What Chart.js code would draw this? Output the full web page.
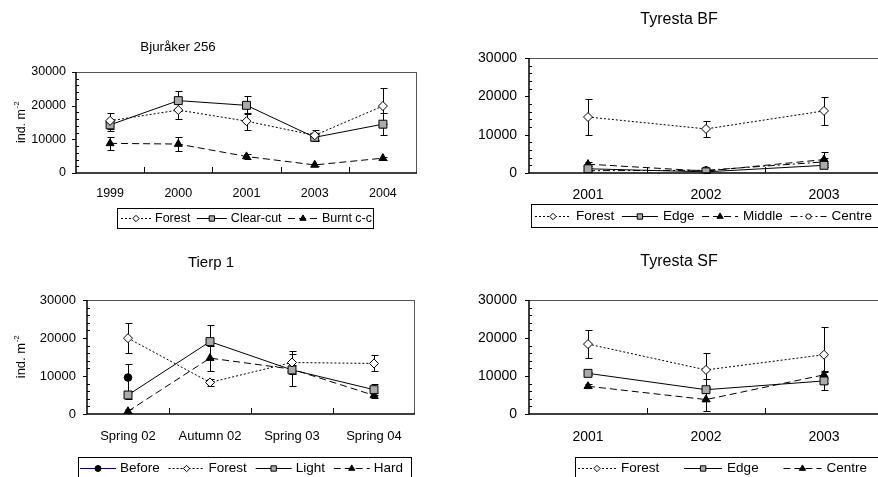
<!DOCTYPE html>
<html>
<head>
<meta charset="utf-8">
<script src="https://cdn.jsdelivr.net/npm/chart.js@4"></script>
<style>
  html, body { margin: 0; padding: 0; background: #fff; overflow: hidden; }
  #page { position: relative; width: 878px; height: 477px; overflow: hidden; }
  .panel { position: absolute; }
</style>
</head>
<body>
<div id="page">
  <div class="panel" style="left:0;top:0"><canvas id="c-bju" width="440" height="240"></canvas></div>
  <div class="panel" style="left:440px;top:0"><canvas id="c-tbf" width="450" height="240"></canvas></div>
  <div class="panel" style="left:0;top:240px"><canvas id="c-tierp" width="440" height="240"></canvas></div>
  <div class="panel" style="left:440px;top:240px"><canvas id="c-tsf" width="450" height="240"></canvas></div>
</div>
<script>
const FONT = "'Liberation Sans', Arial, sans-serif";
Chart.defaults.font.family = FONT;
Chart.defaults.color = '#000';

// Bjuråker 256
const bjuYears = ['1999', '2000', '2001', '2003', '2004'];
const bjuForest = [15500, 18700, 15400, 11200, 19900];
const bjuForestSe = [2400, 2700, 2500, 1500, 5400];
const bjuClearcut = [14300, 21500, 20100, 10600, 14500];
const bjuClearcutSe = [1700, 3000, 2700, 1000, 3300];
const bjuBurnt = [8800, 8600, 4900, 2400, 4400];
const bjuBurntSe = [2000, 2000, 600, 300, 400];

// Tyresta BF
const tbfYears = ['2001', '2002', '2003'];
const tbfForest = [14600, 11500, 16200];
const tbfForestSe = [4700, 2000, 3600];
const tbfEdge = [1100, 300, 2000];
const tbfEdgeSe = [300, 200, 500];
const tbfMiddle = [2300, 500, 3500];
const tbfMiddleSe = [600, 200, 1900];
const tbfCentre = [600, 700, 2900];
const tbfCentreSe = [200, 300, 900];

// Tierp 1
const tierpPeriods = ['Spring 02', 'Autumn 02', 'Spring 03', 'Spring 04'];
const tierpBefore = [9600, null, null, null];
const tierpBeforeSe = [3500, 0, 0, 0];
const tierpForest = [19950, 8300, 13550, 13300];
const tierpForestSe = [3900, 1000, 2900, 2100];
const tierpLight = [5000, 19050, 11600, 6400];
const tierpLightSe = [1000, 4400, 4100, 1500];
const tierpHard = [700, 14700, 11800, 4900];
const tierpHardSe = [500, 3300, 1000, 600];

// Tyresta SF
const tsfYears = ['2001', '2002', '2003'];
const tsfForest = [18400, 11600, 15600];
const tsfForestSe = [3700, 4400, 7400];
const tsfEdge = [10700, 6400, 8700];
const tsfEdgeSe = [400, 2900, 2500];
const tsfCentre = [7300, 3800, 10300];
const tsfCentreSe = [500, 3000, 800];

// marker / line styles per treatment
const openDiamond = { borderDash: [2, 2], pointStyle: 'rectRot', pointRadius: 4.5, pointBackgroundColor: '#fff', legendRadius: 3.2 };
const greySquare = { borderDash: [], pointStyle: 'rect', pointRadius: 5.6, pointBackgroundColor: '#aaa', legendRadius: 3.8 };
const blackTriangle = { borderDash: [7, 4], pointStyle: 'triangle', pointRadius: 4.6, pointBackgroundColor: '#000', legendRadius: 3.6 };
const openCircle = { borderDash: [7, 3, 2, 3], pointStyle: 'circle', pointRadius: 3.8, pointBackgroundColor: '#fff', legendRadius: 2.6 };
const blackCircle = { borderDash: [], borderColor: '#000080', pointStyle: 'circle', pointRadius: 3.8, pointBackgroundColor: '#000', legendRadius: 3 };

function series(label, data, se, style) {
  return Object.assign({
    label, data, se,
    borderColor: '#000', borderWidth: 1,
    pointBorderColor: '#000', pointBorderWidth: 1,
    pointHoverRadius: 4, fill: false, tension: 0
  }, style);
}

const panels = [
  {
    id: 'c-bju', w: 440, h: 240, area: { l: 76, t: 72, r: 417, b: 173 },
    labels: bjuYears, font: 12.5, xPad: 13, yPad: 10,
    title: { text: 'Bjuråker 256', x: 178, y: 47, size: 13.3 }, yTitleX: 21,
    legend: { x: 117, y: 208, w: 256, h: 20, pad: 4, right: 372, sample: 30, textGap: 4, size: 12.5 },
    datasets: [
      series('Forest', bjuForest, bjuForestSe, openDiamond),
      series('Clear-cut', bjuClearcut, bjuClearcutSe, greySquare),
      series('Burnt c-c', bjuBurnt, bjuBurntSe, blackTriangle)
    ]
  },
  {
    id: 'c-tbf', w: 450, h: 240, area: { l: 89, t: 58, r: 443, b: 173 },
    labels: tbfYears, font: 14, xPad: 14, yPad: 12,
    title: { text: 'Tyresta BF', x: 239, y: 20, size: 16 },
    legend: { x: 91, y: 204, w: 370, h: 23, pad: 4, right: 432, sample: 36, textGap: 5, size: 13.5 },
    datasets: [
      series('Forest', tbfForest, tbfForestSe, openDiamond),
      series('Edge', tbfEdge, tbfEdgeSe, greySquare),
      series('Middle', tbfMiddle, tbfMiddleSe, blackTriangle),
      series('Centre', tbfCentre, tbfCentreSe, openCircle)
    ]
  },
  {
    id: 'c-tierp', w: 440, h: 240, area: { l: 87, t: 60, r: 415, b: 174 },
    labels: tierpPeriods, font: 13, xPad: 15, yPad: 11,
    title: { text: 'Tierp 1', x: 211, y: 23, size: 15 }, yTitleX: 21,
    legend: { x: 78, y: 217, w: 333, h: 22, pad: 2, right: 403, sample: 36, textGap: 4, size: 13.5 },
    datasets: [
      series('Before', tierpBefore, tierpBeforeSe, blackCircle),
      series('Forest', tierpForest, tierpForestSe, openDiamond),
      series('Light', tierpLight, tierpLightSe, greySquare),
      series('Hard', tierpHard, tierpHardSe, blackTriangle)
    ]
  },
  {
    id: 'c-tsf', w: 450, h: 240, area: { l: 89, t: 60, r: 443, b: 174 },
    labels: tsfYears, font: 14, xPad: 15, yPad: 12,
    title: { text: 'Tyresta SF', x: 239, y: 22, size: 16 },
    legend: { x: 135, y: 217, w: 330, h: 22, pad: 3, right: 427, sample: 38, textGap: 5, size: 13.5 },
    datasets: [
      series('Forest', tsfForest, tsfForestSe, openDiamond),
      series('Edge', tsfEdge, tsfEdgeSe, greySquare),
      series('Centre', tsfCentre, tsfCentreSe, blackTriangle)
    ]
  }
];

const crisp = v => Math.round(v) + 0.5;

function drawErrorBars(chart) {
  const ctx = chart.ctx, ys = chart.scales.y;
  ctx.save();
  ctx.strokeStyle = '#000';
  ctx.lineWidth = 1;
  chart.data.datasets.forEach((ds, i) => {
    const meta = chart.getDatasetMeta(i);
    ds.data.forEach((v, j) => {
      if (v == null || !ds.se || !ds.se[j]) return;
      const x = crisp(meta.data[j].x);
      const y1 = crisp(ys.getPixelForValue(v + ds.se[j]));
      const y2 = crisp(ys.getPixelForValue(Math.max(0, v - ds.se[j])));
      ctx.beginPath();
      ctx.moveTo(x, y1); ctx.lineTo(x, y2);
      ctx.moveTo(x - 3, y1); ctx.lineTo(x + 4, y1);
      ctx.moveTo(x - 3, y2); ctx.lineTo(x + 4, y2);
      ctx.stroke();
    });
  });
  ctx.restore();
}

function drawFrame(chart) {
  const ctx = chart.ctx, { left, right, top, bottom } = chart.chartArea;
  const ys = chart.scales.y, xs = chart.scales.x;
  ctx.save();
  // thin grey top and right edge of the plot box
  ctx.strokeStyle = '#555';
  ctx.lineWidth = 1;
  ctx.beginPath();
  ctx.moveTo(left, crisp(top)); ctx.lineTo(right, crisp(top));
  ctx.moveTo(crisp(right) - 1, top); ctx.lineTo(crisp(right) - 1, bottom);
  ctx.stroke();
  // value and category axes
  ctx.strokeStyle = '#000';
  ctx.lineWidth = 1.5;
  ctx.beginPath();
  ctx.moveTo(left, top); ctx.lineTo(left, bottom + 0.75);
  ctx.moveTo(left - 0.75, bottom); ctx.lineTo(right, bottom);
  ctx.stroke();
  // major ticks outside, minor ticks inside
  ctx.lineWidth = 1;
  ctx.beginPath();
  for (let v = 0; v <= 30000; v += 2000) {
    const y = crisp(ys.getPixelForValue(v));
    if (v % 10000 === 0) { ctx.moveTo(left - 4, y); ctx.lineTo(left, y); }
    else { ctx.moveTo(left, y); ctx.lineTo(left + 3, y); }
  }
  // category separators
  const n = chart.data.labels.length;
  for (let i = 0; i < n - 1; i++) {
    const x = crisp((xs.getPixelForValue(i) + xs.getPixelForValue(i + 1)) / 2);
    ctx.moveTo(x, bottom); ctx.lineTo(x, bottom - 6);
  }
  ctx.stroke();
  ctx.restore();
}

function drawYTitle(chart, x, size) {
  const ctx = chart.ctx, { top, bottom } = chart.chartArea;
  ctx.save();
  ctx.translate(x, (top + bottom) / 2);
  ctx.rotate(-Math.PI / 2);
  ctx.fillStyle = '#000';
  ctx.textAlign = 'left';
  ctx.textBaseline = 'alphabetic';
  ctx.font = `${size}px ${FONT}`;
  const main = 'ind. m';
  const mw = ctx.measureText(main).width;
  ctx.font = `8px ${FONT}`;
  const sw = ctx.measureText('-2').width;
  const start = -(mw + sw) / 2;
  ctx.font = `${size}px ${FONT}`;
  ctx.fillText(main, start, 4);
  ctx.font = `8px ${FONT}`;
  ctx.fillText('-2', start + mw + 0.5, -2.5);
  ctx.restore();
}

function drawLegend(chart, lg) {
  const ctx = chart.ctx, items = chart.data.datasets;
  ctx.save();
  ctx.strokeStyle = '#000';
  ctx.lineWidth = 1;
  ctx.strokeRect(lg.x + 0.5, lg.y + 0.5, lg.w, lg.h);
  ctx.font = `${lg.size}px ${FONT}`;
  const widths = items.map(d => ctx.measureText(d.label).width);
  const used = widths.reduce((a, b) => a + b, 0) + items.length * (lg.sample + lg.textGap);
  const gap = (lg.right - lg.x - lg.pad - used) / (items.length - 1);
  const cy = lg.y + Math.round(lg.h / 2) + 0.5;
  let x = lg.x + lg.pad;
  items.forEach((d, i) => {
    ctx.strokeStyle = d.borderColor;
    ctx.setLineDash(d.borderDash || []);
    ctx.beginPath();
    ctx.moveTo(x, cy); ctx.lineTo(x + lg.sample, cy);
    ctx.stroke();
    ctx.setLineDash([]);
    ctx.strokeStyle = '#000';
    ctx.fillStyle = d.pointBackgroundColor;
    Chart.helpers.drawPoint(ctx, { pointStyle: d.pointStyle, radius: d.legendRadius, borderWidth: 1, rotation: 0 }, x + lg.sample / 2, cy);
    ctx.fillStyle = '#000';
    ctx.textAlign = 'left';
    ctx.textBaseline = 'middle';
    ctx.fillText(d.label, x + lg.sample + lg.textGap, cy);
    x += lg.sample + lg.textGap + widths[i] + gap;
  });
  ctx.restore();
}

function panelDecor(p) {
  return {
    id: 'panelDecor',
    beforeDatasetsDraw(chart) { drawErrorBars(chart); },
    afterDraw(chart) {
      drawFrame(chart);
      const ctx = chart.ctx;
      ctx.save();
      ctx.font = `${p.title.size}px ${FONT}`;
      ctx.fillStyle = '#000';
      ctx.textAlign = 'center';
      ctx.textBaseline = 'middle';
      ctx.fillText(p.title.text, p.title.x, p.title.y);
      ctx.restore();
      if (p.yTitleX) drawYTitle(chart, p.yTitleX, p.font);
      drawLegend(chart, p.legend);
    }
  };
}

const Y_AXIS_W = 60, X_AXIS_H = 40;

panels.forEach(p => {
  new Chart(document.getElementById(p.id), {
    type: 'line',
    data: { labels: p.labels, datasets: p.datasets },
    options: {
      responsive: false,
      animation: false,
      devicePixelRatio: 1,
      spanGaps: false,
      layout: {
        padding: {
          left: p.area.l - Y_AXIS_W,
          top: p.area.t,
          right: p.w - p.area.r,
          bottom: p.h - p.area.b - X_AXIS_H
        }
      },
      plugins: { legend: { display: false }, title: { display: false }, tooltip: { enabled: false } },
      scales: {
        x: {
          offset: true,
          grid: { display: false, drawTicks: false },
          border: { display: false },
          ticks: { padding: p.xPad, maxRotation: 0, autoSkip: false, font: { size: p.font } },
          afterFit: s => { s.height = X_AXIS_H; }
        },
        y: {
          min: 0, max: 30000,
          grid: { display: false, drawTicks: false },
          border: { display: false },
          ticks: { stepSize: 10000, padding: p.yPad, font: { size: p.font }, callback: v => String(v) },
          afterFit: s => { s.width = Y_AXIS_W; }
        }
      }
    },
    plugins: [panelDecor(p)]
  });
});
</script>
</body>
</html>
